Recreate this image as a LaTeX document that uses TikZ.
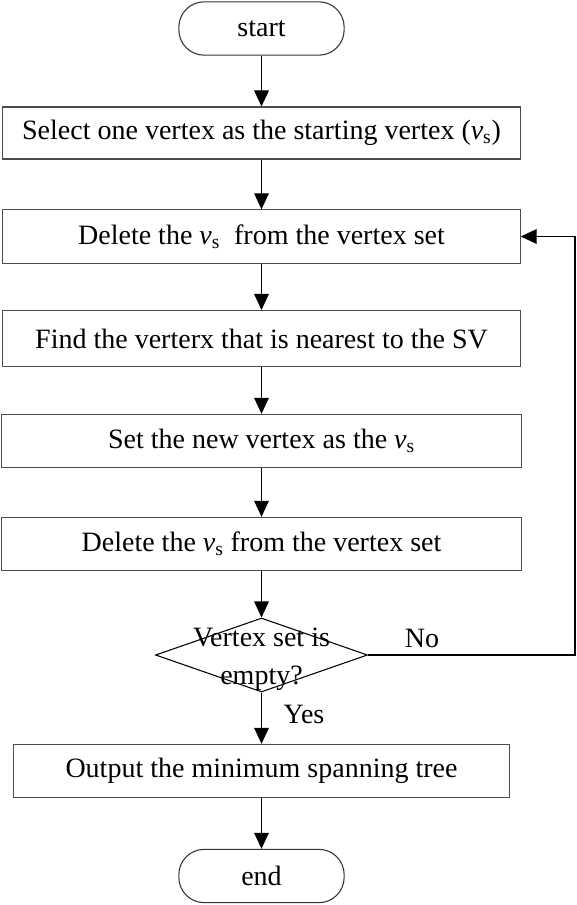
\documentclass[tikz,border=0pt]{standalone}
\usepackage{fontspec}
\setmainfont{Liberation Serif}
\usetikzlibrary{shapes.geometric,arrows.meta}
\newcommand{\vs}{\textit{v}\textsubscript{s}}
\begin{document}
\begin{tikzpicture}[x=0.75pt,y=-0.75pt,line width=0.8pt,
  font=\fontsize{21}{25}\selectfont,
  box/.style={draw=black!70,minimum height=40pt,inner sep=0pt},
  term/.style={draw=black!80,rounded corners=19pt,minimum width=124pt,minimum height=40pt,inner sep=0pt},
  arr/.style={-{Triangle[length=12pt,width=11pt]}}]
\useasboundingbox (0,0) rectangle (576,905);

\node[term] (start) at (261.5,28.5) {start};
\node[box,minimum width=388pt,minimum height=39pt] (sel) at (261.5,133) {Select one vertex as the starting vertex (\vs)};
\node[box,minimum width=388pt] (del1) at (261.5,236.5) {Delete the \vs\ \ from the vertex set};
\node[box,minimum width=388pt,minimum height=42pt] (find) at (261.5,338.5) {Find the verterx that is nearest to the SV};
\node[box,minimum width=390pt] (set) at (261.5,441) {Set the new vertex as the \vs};
\node[box,minimum width=390pt] (del2) at (261.5,544) {Delete the \vs\ from the vertex set};
\node[draw,shape=diamond,inner sep=0pt,minimum width=159pt,minimum height=55.5pt] (dec) at (261.5,655) {};
\node[align=center,inner sep=0pt,font=\fontsize{21}{28.5}\selectfont] (dectext) at (261.5,659) {Vertex set is\\empty?};
\node[box,minimum width=372pt] (out) at (261.5,771) {Output the minimum spanning tree};
\node[term] (end) at (261.5,876) {end};

\draw[arr] (start) -- (sel);
\draw[arr] (sel) -- (del1);
\draw[arr] (del1) -- (find);
\draw[arr] (find) -- (set);
\draw[arr] (set) -- (del2);
\draw[arr] (del2) -- (dec);
\draw[arr] (dec) -- (out);
\draw[arr] (out) -- (end);

% loop back when set is not empty
\coordinate (loop) at (575,655);
\draw[arr] (dec.east) -- (loop) |- (del1.east);
\node (lblno) at (422,638) {No};
\node (lblyes) at (304,714) {Yes};

\end{tikzpicture}
\end{document}
